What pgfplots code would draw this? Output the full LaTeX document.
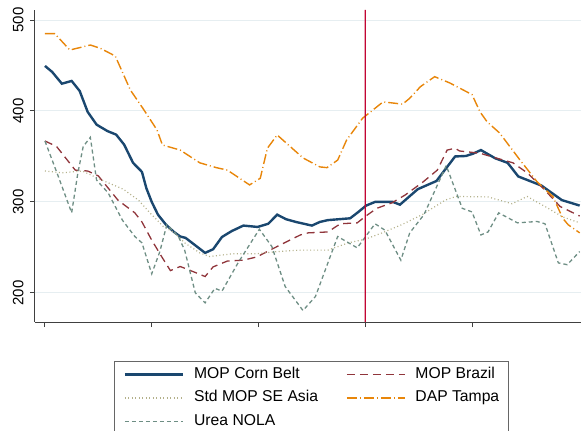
\documentclass[border=0pt]{standalone}
\usepackage{fontspec}
\setmainfont{Liberation Sans}
\usepackage{pgfplots}
\pgfplotsset{compat=1.18}
\definecolor{cbnavy}{HTML}{1A476F}
\definecolor{brmaroon}{HTML}{90353B}
\definecolor{sekhaki}{HTML}{B3B08A}
\definecolor{dapor}{HTML}{E8860A}
\definecolor{ureateal}{HTML}{6E8E84}
\definecolor{crimsonline}{rgb}{0.76,0.02,0.20}
\definecolor{gridc}{HTML}{E6EEF1}
\tikzset{
  cbstyle/.style={color=cbnavy, line width=2.4pt, solid},
  brstyle/.style={color=brmaroon, line width=1.3pt, dash pattern=on 8pt off 5pt},
  sestyle/.style={color=sekhaki, line width=1.2pt, dash pattern=on 1pt off 2.5pt},
  dapstyle/.style={color=dapor, line width=1.4pt, dash pattern=on 10pt off 3pt on 1pt off 3pt},
  ureastyle/.style={color=ureateal, line width=1.3pt, dash pattern=on 4pt off 3pt},
}
\begin{document}
\begin{tikzpicture}
\begin{axis}[
  at={(0pt,0pt)}, anchor=south west,
  scale only axis, width=546pt, height=312pt,
  xmin=-1.12, xmax=60.25, ymin=168, ymax=511,
  axis x line*=bottom, axis y line*=left,
  axis line style={-, black!75, line width=1pt},
  xtick={0,12,24,36,48}, xticklabels={},
  ytick={200,300,400,500},
  yticklabels={\rotatebox{90}{200},\rotatebox{90}{300},\rotatebox{90}{400},\rotatebox{90}{500}},
  tick align=outside, major tick length=5pt,
  tick style={black!75, line width=1pt},
  ymajorgrids, grid style={gridc, line width=1pt},
  ticklabel style={font=\fontsize{15}{18}\selectfont},
  yticklabel style={xshift=-3pt},
  legend columns=2,
  legend cell align=left,
  legend style={
    at={(0.5064,-0.125)}, anchor=north,
    draw=black!60, line width=0.8pt,
    inner xsep=9pt, inner ysep=6pt,
    font=\fontsize{15.7}{18}\selectfont,
    row sep=9.5pt,
    nodes={inner sep=0pt, text height=11pt, text depth=3pt},
    /tikz/every odd column/.append style={column sep=10pt},
    /tikz/every even column/.append style={column sep=28pt},
  },
]
\addplot[cbstyle, legend image code/.code={\draw[cbstyle] (0pt,0pt) -- (58pt,0pt);}] coordinates {
(0,449.5) (0.8,443) (1.9,430) (3.0,433) (3.9,422) (4.8,399) (5.8,385) (7.0,378)
(8.0,374) (8.9,363) (9.9,343) (10.9,333) (11.4,315) (12.0,300) (12.7,286) (13.6,275)
(14.5,267) (15.2,262) (15.8,260.5) (18.0,244) (18.9,248) (19.9,261.5) (21.0,268)
(22.3,274) (23.9,272.5) (25.1,276) (26.1,286) (27.1,281) (28.2,278) (30.0,274)
(30.9,278) (31.8,280) (34.3,282) (35.1,288) (36.1,296) (37.1,300) (39.1,300)
(39.9,297) (41.9,314) (44.0,323) (46.1,350) (47.3,350.5) (48.1,353) (49.0,357)
(50.6,348) (52.0,343) (53.2,328) (55.8,318) (58.1,302) (60.1,296)
};
\addlegendentry{MOP Corn Belt}
\addplot[brstyle, legend image code/.code={\draw[brstyle] (0pt,0pt) -- (58pt,0pt);}] coordinates {
(0,367) (1.3,361) (3.4,335) (4.8,334) (6.0,328.6) (8.2,302) (10.1,288) (10.9,278)
(12.0,258) (13.2,238.5) (14.1,224.5) (15.2,229) (16.0,226) (18.0,218) (18.9,228.6)
(20.5,235) (22.3,236) (23.8,239.5) (26.1,251) (28.7,263.7) (29.6,266) (31.8,267)
(33.2,276) (35.1,277) (36.0,284) (37.3,293) (39.0,299) (40.5,307.7) (42.5,322)
(44.1,335) (45.2,357) (46.1,359) (46.6,356) (48.9,353.5) (50.8,348) (52.6,343)
(54.2,332) (56.0,315) (57.9,295) (60.1,284.5)
};
\addlegendentry{MOP Brazil}
\addplot[sestyle, legend image code/.code={\draw[sestyle] (0pt,0pt) -- (58pt,0pt);}] coordinates {
(0,334) (1.9,332) (4.2,334) (6.4,324) (8.8,314) (10.5,302) (11.8,288) (13.3,273)
(14.6,266) (15.7,255) (17.4,244) (18.5,240) (21.1,243) (23.8,243) (26.1,245.4)
(28.7,247) (31.8,247) (34.1,255) (36.0,259) (37.9,266) (40.1,275) (42.4,286)
(45.0,302) (46.2,306) (49.8,305.5) (52.5,298) (54.2,306) (56.2,295) (58.2,283.5)
(60.1,277)
};
\addlegendentry{Std MOP SE Asia}
\addplot[dapstyle, legend image code/.code={\draw[dapstyle] (0pt,0pt) -- (58pt,0pt);}] coordinates {
(0,485) (1.1,485) (2.8,467) (5.1,472.5) (6.2,469) (7.9,460.4) (9.6,423) (11.0,403)
(12.6,379) (13.2,362.6) (15.2,357) (17.4,343) (19.3,337.6) (20.5,335) (23.0,318.7)
(24.2,326) (25.0,359) (26.1,373.6) (29.0,348.4) (30.9,338.5) (31.7,337.7) (32.9,346)
(33.9,368) (35.7,392) (38.0,410) (40.2,407.5) (41.0,414) (42.2,426.7) (43.8,437.7)
(45.5,430.8) (48.0,418) (48.9,399) (49.7,388) (51.1,375.8) (53.4,346) (55.3,322.3)
(57.1,305.8) (58.2,282) (58.8,275) (60.1,266)
};
\addlegendentry{DAP Tampa}
\addplot[ureastyle, legend image code/.code={\draw[ureastyle] (0pt,0pt) -- (58pt,0pt);}] coordinates {
(0,367) (1.5,328) (3.0,288) (3.7,332) (4.3,361) (5.1,371) (5.8,324) (7.1,310)
(8.7,280) (10.1,262) (10.9,255) (12.0,221) (12.9,245) (13.7,275) (15.0,262)
(15.7,247) (16.9,200) (18.0,189) (19.1,205) (19.9,202) (21.7,233) (24.1,270)
(25.5,251) (27.0,207) (29.0,180.6) (30.4,196) (32.9,262) (35.1,249.5) (37.1,276)
(38.2,269) (40.0,236) (41.0,266) (42.6,286) (45.1,340) (46.9,293) (48.0,289)
(49.0,263.7) (49.8,267) (51.0,288) (53.1,277) (55.3,278.5) (56.2,276) (57.7,233)
(58.7,231) (60.1,245.5)
};
\addlegendentry{Urea NOLA}
\addplot[fill=crimsonline, draw=none, forget plot] coordinates {(35.93,168) (35.93,511) (36.07,511) (36.07,168)} \closedcycle;
\end{axis}
\pgfresetboundingbox
\path[use as bounding box] (-35pt,-109pt) rectangle (546pt,322pt);
\end{tikzpicture}
\end{document}
